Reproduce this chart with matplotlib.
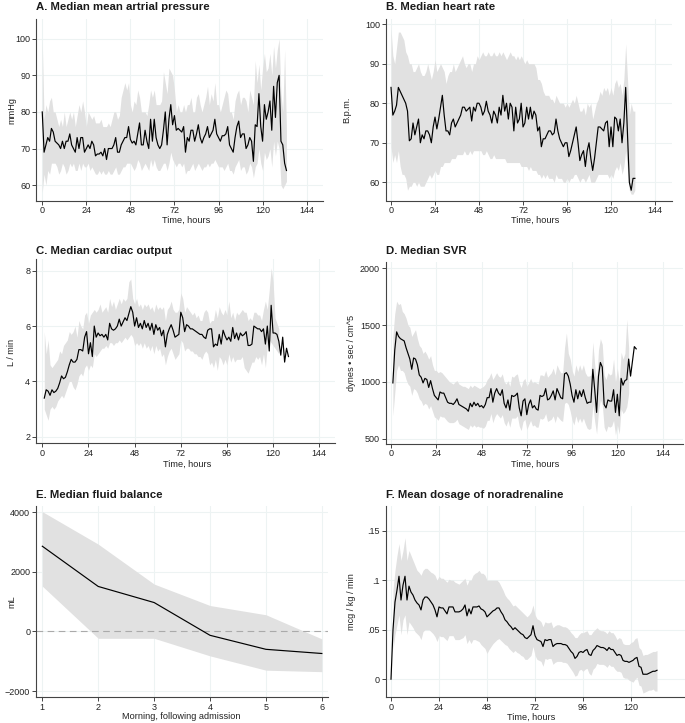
import numpy as np
import matplotlib
matplotlib.use("Agg")
import matplotlib.pyplot as plt

plt.rcParams["font.family"] = ["Liberation Sans", "DejaVu Sans"]

# ── A. mean arterial pressure (hourly, from 0 h) ─────────────────────
map_med = [80, 69, 71, 73, 72, 75.5, 74.5, 72, 71.5, 71, 70, 72, 70, 72, 72, 74,
           71, 70, 69, 73, 70, 73, 73, 69, 70, 71, 70, 72, 71, 68, 68.5, 68.5,
           69, 68, 70, 67, 70, 70, 70, 71, 73, 69, 69, 71, 72, 73, 73, 76,
           72.5, 71.5, 72, 71, 74, 77, 71, 71, 75, 72, 70, 78, 72, 78, 73, 71,
           70, 71, 75, 80, 71, 78, 82, 76.5, 79, 75, 75.5, 75, 74.5, 76, 69, 73,
           72, 75, 75, 72, 74, 76.5, 73, 71.5, 73, 74, 76, 73, 74, 75, 78, 74,
           73, 72, 73.5, 73.5, 74, 76, 71, 70, 69, 73, 76, 77.5, 73, 74, 74, 70,
           71, 73, 72, 66.5, 76.5, 76, 85, 76, 72, 82, 78, 80, 83, 75, 87, 78.5,
           88, 90, 72, 71, 66, 64]
map_hi = [100, 78, 82, 80, 83, 84, 80, 80, 78, 76, 78, 76, 80, 76, 78, 80,
          78, 80, 76, 79, 82, 80, 83, 80, 76, 80, 79, 78, 79, 77, 77, 77,
          78, 76, 76, 76, 77, 76, 78, 80, 80, 78, 79, 84, 86, 88, 86, 88,
          82, 80, 83, 82, 86, 84, 80, 80, 80, 79, 82, 86, 84, 86, 82, 82,
          82, 83, 91, 88, 85, 92, 91, 90, 86, 80, 82, 80, 80, 82, 80, 82,
          82, 84, 80, 80, 84, 85, 82, 80, 82, 84, 87, 82, 85, 83, 88, 82,
          82, 80, 82, 84, 86, 85, 80, 80, 78, 83, 85, 86, 82, 84, 84, 83,
          80, 86, 84, 82, 94, 88, 93, 86, 92, 96, 91, 92, 96, 90, 98, 92,
          97, 100, 85, 80, 97, 75]
map_lo = [58, 63, 60, 64, 63, 66, 66, 66, 65, 63, 64, 66, 65, 63, 64, 66,
          65, 66, 64, 64, 66, 64, 66, 65, 65, 66, 64, 65, 64, 63, 63, 64,
          63, 64, 63, 63, 64, 63, 63, 64, 65, 63, 63, 64, 65, 65, 66, 66,
          66, 65, 64, 65, 67, 66, 64, 65, 66, 65, 64, 67, 65, 67, 65, 64,
          64, 65, 66, 66, 64, 66, 69, 67, 66, 65, 66, 66, 65, 66, 63, 64,
          64, 65, 66, 64, 65, 66, 65, 64, 65, 65, 66, 65, 66, 66, 67, 66,
          65, 65, 65, 64, 65, 66, 64, 64, 63, 65, 66, 67, 64, 65, 65, 63,
          64, 66, 65, 62, 65, 66, 70, 66, 64, 69, 67, 68, 70, 65, 72, 68,
          72, 70, 60, 59, 60, 61]

# ── B. heart rate ────────────────────────────────────────────────────
hr_med = [84, 77, 78, 79.5, 84, 83, 82, 81, 80, 78, 70.5, 71, 75, 72, 74, 76,
          70, 72, 71, 73, 73, 72, 70, 74, 76.5, 73.5, 76, 79, 82, 77, 73, 73,
          72, 75, 76, 74, 75, 76, 77, 79, 79, 78, 78.5, 79, 75.5, 79, 78, 80,
          80, 79, 77, 78, 80.5, 78, 77, 75, 78, 77, 75, 79, 77, 82, 78, 80,
          76, 80, 79, 73, 79, 75, 76, 80, 74, 75, 79, 76, 79, 76, 78, 77,
          73, 74, 69, 71, 71, 72, 73, 73, 72, 72.5, 76, 73, 71, 70, 69, 70,
          70, 66.5, 68, 70, 72, 74, 70, 65.5, 67, 68, 64, 68, 70, 66, 63, 66,
          70, 74, 74, 73.5, 73, 75, 75.5, 69, 74, 69, 76.5, 76, 73, 76, 70, 75,
          84, 72, 60, 58, 61, 61]
hr_hi = [99, 92, 90, 94, 98, 98, 97, 96, 93, 92, 90, 90, 88, 88, 89, 90,
         88, 87, 87, 88, 90, 88, 86, 88, 91, 88, 89, 90, 89, 88, 85, 87,
         88, 88, 90, 88, 89, 90, 91, 92, 90, 89, 90, 90, 88, 90, 90, 92,
         91, 92, 93, 92, 92, 93, 92, 92, 93, 92, 92, 93, 92, 93, 92, 91,
         92, 93, 92, 92, 91, 92, 91, 92, 91, 90, 91, 90, 90, 90, 90, 89,
         86, 86, 85, 83, 82, 82, 82, 81, 81, 80, 82, 81, 80, 80, 80, 79,
         80, 79, 80, 81, 80, 82, 80, 78, 78, 79, 77, 80, 79, 80, 76, 78,
         80, 81, 83, 82, 84, 83, 84, 82, 84, 82, 85, 86, 84, 85, 82, 86,
         95, 86, 77, 80, 78, 78]
hr_lo = [69, 65, 67, 65, 68, 64, 62, 62, 61, 58, 59, 59, 60, 60, 59, 60,
         59, 59, 59, 60, 61, 62, 61, 62, 63, 62, 62, 64, 64, 65, 65, 65,
         65, 66, 66, 66, 67, 67, 67, 67, 68, 67, 67, 68, 67, 68, 68, 68,
         68, 68, 67, 67, 68, 67, 66, 66, 67, 66, 66, 66, 66, 66, 66, 65,
         65, 65, 65, 65, 65, 65, 65, 64, 64, 64, 64, 63, 64, 63, 63, 63,
         62, 62, 61, 62, 61, 62, 61, 61, 61, 60, 62, 61, 61, 61, 60, 60,
         61, 60, 61, 61, 62, 62, 61, 60, 61, 61, 60, 61, 62, 60, 60, 60,
         61, 62, 62, 62, 62, 62, 62, 61, 62, 61, 63, 64, 63, 65, 62, 64,
         68, 63, 58, 57, 57, 58]

# ── C. cardiac output (from 1 h) ─────────────────────────────────────
co_med = [3.4, 3.7, 3.65, 3.5, 3.7, 3.6, 3.65, 3.75, 3.95, 4.2, 4.1, 4.15, 4.35,
          4.6, 4.8, 4.7, 4.7, 4.8, 5.15, 5.15, 5.1, 5.6, 5.8, 5.0, 5.4, 4.9,
          6.0, 5.6, 5.75, 5.65, 5.7, 5.6, 5.7, 5.5, 6.1, 5.9, 5.85, 5.9, 6.0,
          6.25, 6.0, 6.15, 6.3, 6.2, 6.45, 6.7, 6.5, 6.0, 6.3, 5.95, 6.1, 5.9,
          6.2, 5.95, 6.1, 5.85, 6.1, 5.7, 6.05, 5.85, 5.95, 5.65, 5.85, 5.25,
          5.7, 5.9, 6.05, 5.85, 5.6, 5.65, 5.7, 6.5, 6.3, 5.8, 6.05, 6.0, 5.9,
          5.9, 5.85, 5.8, 5.75, 5.7, 5.7, 5.6, 5.55, 5.85, 5.9, 5.9, 5.25, 5.35,
          5.3, 5.7, 5.35, 5.85, 5.65, 5.5, 5.6, 5.45, 5.95, 5.55, 5.75, 5.5,
          5.75, 5.65, 5.7, 5.8, 5.3, 5.3, 5.35, 6.0, 5.95, 5.9, 5.9, 5.8, 5.9,
          5.35, 6.0, 5.1, 6.75, 5.75, 5.75, 5.7, 5.45, 4.95, 5.6, 4.7, 5.2, 4.9]
co_hi = [5.8, 5.0, 5.5, 4.6, 4.5, 4.6, 4.7, 4.8, 5.1, 5.0, 5.3, 5.4, 5.5, 5.8,
         5.7, 5.8, 6.0, 5.6, 6.2, 6.0, 5.9, 6.4, 6.5, 6.1, 6.4, 6.5, 6.6, 6.5,
         6.6, 6.8, 6.5, 6.6, 6.7, 6.5, 7.0, 6.7, 6.9, 6.6, 6.8, 7.0, 6.8, 7.0,
         6.9, 7.0, 7.6, 7.7, 7.0, 6.8, 7.0, 6.7, 6.8, 6.6, 6.8, 6.7, 6.8, 6.6,
         6.7, 6.5, 6.8, 6.6, 6.7, 6.6, 6.7, 6.2, 6.6, 6.7, 6.9, 6.6, 6.5, 6.5,
         6.6, 7.2, 7.0, 6.5, 6.7, 6.6, 6.5, 6.4, 6.5, 6.3, 6.4, 6.2, 6.2, 6.5,
         6.6, 6.5, 6.1, 6.2, 6.2, 6.6, 6.3, 6.7, 6.5, 6.4, 6.6, 6.4, 6.9, 6.3,
         6.5, 6.2, 6.5, 6.4, 6.5, 6.6, 6.5, 6.5, 6.2, 6.3, 6.2, 6.5, 6.5, 6.4,
         6.4, 6.2, 6.6, 6.9, 6.6, 7.3, 8.1, 7.6, 6.3, 6.1, 5.9]
co_lo = [3.0, 2.8, 2.6, 3.0, 3.1, 3.0, 3.1, 3.3, 3.4, 3.5, 3.4, 3.6, 3.8, 4.0,
         4.0, 3.8, 3.7, 3.9, 4.2, 4.3, 4.2, 4.5, 4.6, 4.4, 4.6, 4.5, 5.0, 4.9,
         5.0, 5.1, 5.2, 5.2, 5.3, 5.2, 5.4, 5.4, 5.3, 5.4, 5.4, 5.5, 5.4, 5.5,
         5.6, 5.5, 5.6, 5.7, 5.6, 5.3, 5.4, 5.3, 5.4, 5.2, 5.4, 5.2, 5.3, 5.1,
         5.3, 5.0, 5.3, 5.1, 5.2, 4.9, 5.0, 4.6, 4.9, 5.1, 5.2, 5.0, 4.8, 4.9,
         5.0, 5.5, 5.4, 5.1, 5.2, 5.2, 5.1, 5.1, 5.0, 5.0, 4.9, 4.9, 4.8, 5.0,
         5.1, 5.0, 4.6, 4.7, 4.5, 4.8, 4.4, 4.9, 4.8, 4.6, 4.8, 4.6, 5.0, 4.7,
         4.9, 4.7, 4.8, 4.8, 4.8, 4.9, 4.5, 4.4, 4.3, 4.5, 4.7, 4.7, 4.9, 4.8,
         4.9, 4.6, 5.0, 4.5, 5.3, 5.5, 5.4, 5.3, 5.2, 5.1, 5.0]

# ── D. SVR (from 1 h) ────────────────────────────────────────────────
svr_med = [990, 1280, 1440, 1400, 1380, 1370, 1360, 1300, 1250, 1200, 1110, 1210,
           1200, 1150, 1060, 1040, 990, 1030, 1020, 950, 1010, 940, 880, 860,
           840, 910, 900, 900, 860, 820, 810, 810, 800, 820, 850, 800, 790, 780,
           770, 760, 740, 810, 780, 820, 790, 810, 780, 790, 770, 800, 860, 860,
           940, 820, 900, 940, 900, 880, 930, 810, 770, 840, 750, 880, 870, 880,
           900, 770, 700, 830, 850, 710, 800, 840, 770, 790, 760, 750, 880, 870,
           880, 940, 840, 850, 880, 920, 840, 940, 900, 860, 850, 1070, 1080,
           1050, 980, 880, 820, 930, 850, 920, 870, 930, 860, 810, 820, 820,
           1110, 930, 730, 1050, 1170, 1130, 800, 770, 840, 830, 830, 930, 730,
           890, 700, 1030, 970, 1010, 1020, 1200, 1050, 1180, 1310, 1290]
svr_hi = [1400, 1600, 1710, 1680, 1690, 1620, 1600, 1560, 1500, 1480, 1400, 1430,
          1460, 1380, 1320, 1300, 1250, 1270, 1240, 1200, 1230, 1150, 1100, 1100,
          1080, 1090, 1080, 1060, 1040, 1020, 1000, 990, 980, 1000, 1010, 980,
          970, 960, 960, 950, 940, 970, 950, 970, 960, 950, 940, 950, 960, 980,
          1020, 1040, 1080, 1020, 1050, 1080, 1050, 1040, 1070, 1000, 980, 1010,
          960, 1050, 1040, 1060, 1070, 990, 950, 1010, 1030, 960, 990, 1030, 990,
          1000, 990, 980, 1060, 1060, 1050, 1100, 1040, 1060, 1080, 1120, 1060,
          1150, 1110, 1080, 1080, 1300, 1430, 1250, 1200, 1100, 1050, 1150, 1090,
          1150, 1100, 1150, 1080, 1050, 1050, 1060, 1350, 1150, 1000, 1280, 1380,
          1330, 1060, 1020, 1080, 1060, 1070, 1200, 1000, 1120, 1000, 1260, 1200,
          1250, 1550, 1300]
svr_lo = [700, 900, 1100, 1150, 1100, 1100, 1080, 1020, 980, 960, 880, 940, 930,
          900, 850, 830, 790, 810, 800, 760, 790, 740, 690, 680, 660, 700, 690,
          690, 670, 650, 640, 640, 640, 650, 670, 630, 620, 610, 600, 590, 580,
          620, 600, 620, 600, 610, 600, 600, 590, 610, 660, 660, 720, 640, 690,
          720, 700, 680, 710, 640, 610, 660, 600, 680, 680, 680, 700, 610, 570,
          650, 670, 580, 620, 660, 610, 620, 600, 600, 680, 670, 680, 720, 650,
          660, 670, 700, 640, 700, 680, 660, 650, 810, 820, 800, 740, 660, 620,
          700, 640, 680, 640, 680, 630, 590, 580, 590, 800, 650, 540, 740, 840,
          800, 600, 560, 610, 600, 610, 660, 530, 620, 540, 760, 720, 740, 780,
          900]

# ── E. fluid balance by morning ──────────────────────────────────────
morning = [1, 2, 3, 4, 5, 6]
fluid_med = [2860, 1510, 970, -130, -600, -740]
fluid_hi = [4020, 2930, 1590, 870, 560, -250]
fluid_lo = [1520, -230, -230, -820, -1300, -1350]

# ── F. noradrenaline dose (from 0 h) ─────────────────────────────────
na_mean = [0, 0.05, 0.078, 0.09, 0.104, 0.08, 0.095, 0.104, 0.08, 0.094, 0.088,
           0.085, 0.08, 0.077, 0.075, 0.07, 0.08, 0.083, 0.083, 0.081, 0.078,
           0.075, 0.07, 0.063, 0.073, 0.072, 0.072, 0.069, 0.066, 0.073, 0.073,
           0.073, 0.068, 0.068, 0.068, 0.069, 0.071, 0.075, 0.064, 0.071, 0.066,
           0.073, 0.073, 0.073, 0.074, 0.071, 0.07, 0.068, 0.063, 0.065, 0.067,
           0.069, 0.07, 0.072, 0.072, 0.068, 0.065, 0.06, 0.058, 0.055, 0.053,
           0.05, 0.052, 0.05, 0.048, 0.046, 0.045, 0.042, 0.041, 0.043, 0.045,
           0.054, 0.044, 0.04, 0.039, 0.038, 0.033, 0.04, 0.039, 0.04, 0.04,
           0.033, 0.035, 0.036, 0.036, 0.036, 0.035, 0.035, 0.034, 0.031, 0.028,
           0.026, 0.021, 0.023, 0.027, 0.028, 0.027, 0.029, 0.03, 0.025, 0.024,
           0.029, 0.031, 0.034, 0.033, 0.032, 0.032, 0.031, 0.029, 0.032, 0.03,
           0.03, 0.027, 0.024, 0.025, 0.024, 0.019, 0.018, 0.018, 0.017, 0.018,
           0.019, 0.021, 0.022, 0.013, 0.012, 0.005, 0.005, 0.005, 0.006, 0.007,
           0.008, 0.008, 0.009]
na_hi = [0.09, 0.11, 0.125, 0.137, 0.12, 0.13, 0.143, 0.12, 0.13, 0.125, 0.12,
         0.115, 0.11, 0.108, 0.105, 0.11, 0.112, 0.112, 0.11, 0.108, 0.107, 0.105,
         0.1, 0.104, 0.102, 0.102, 0.1, 0.098, 0.101, 0.1, 0.1, 0.098, 0.097,
         0.096, 0.098, 0.1, 0.102, 0.095, 0.1, 0.1, 0.105, 0.107, 0.108, 0.11,
         0.107, 0.107, 0.105, 0.1, 0.1, 0.1, 0.1, 0.1, 0.1, 0.098, 0.094, 0.09,
         0.085, 0.082, 0.08, 0.077, 0.074, 0.075, 0.073, 0.071, 0.069, 0.067,
         0.065, 0.063, 0.065, 0.068, 0.075, 0.065, 0.061, 0.06, 0.058, 0.053,
         0.058, 0.057, 0.057, 0.058, 0.052, 0.054, 0.055, 0.055, 0.054, 0.053,
         0.053, 0.052, 0.05, 0.047, 0.045, 0.042, 0.042, 0.045, 0.047, 0.047,
         0.048, 0.049, 0.045, 0.045, 0.048, 0.05, 0.052, 0.05, 0.049, 0.049,
         0.048, 0.046, 0.049, 0.047, 0.047, 0.044, 0.04, 0.042, 0.041, 0.036,
         0.035, 0.035, 0.035, 0.037, 0.038, 0.041, 0.042, 0.032, 0.03, 0.024,
         0.025, 0.025, 0.026, 0.027, 0.028, 0.028, 0.029]
na_lo = [0.03, 0.045, 0.055, 0.065, 0.045, 0.06, 0.065, 0.045, 0.058, 0.055,
         0.052, 0.048, 0.046, 0.044, 0.04, 0.048, 0.05, 0.05, 0.05, 0.048, 0.046,
         0.043, 0.038, 0.044, 0.043, 0.043, 0.041, 0.039, 0.044, 0.044, 0.044,
         0.04, 0.04, 0.04, 0.041, 0.042, 0.045, 0.036, 0.04, 0.036, 0.04, 0.04,
         0.039, 0.038, 0.035, 0.033, 0.031, 0.026, 0.03, 0.033, 0.036, 0.038,
         0.04, 0.041, 0.039, 0.037, 0.035, 0.034, 0.031, 0.029, 0.027, 0.029,
         0.027, 0.026, 0.024, 0.023, 0.02, 0.02, 0.022, 0.024, 0.033, 0.024,
         0.02, 0.019, 0.018, 0.013, 0.021, 0.02, 0.021, 0.021, 0.015, 0.017,
         0.018, 0.018, 0.018, 0.017, 0.017, 0.016, 0.013, 0.01, 0.007, 0.003,
         0.004, 0.009, 0.01, 0.008, 0.01, 0.011, 0.006, 0.004, 0.01, 0.012,
         0.016, 0.015, 0.015, 0.015, 0.014, 0.012, 0.015, 0.013, 0.013, 0.01,
         0.008, 0.008, 0.007, 0.002, 0.001, 0.001, -0.001, -0.002, -0.003, 0.0,
         0.002, -0.006, -0.007, -0.014, -0.013, -0.012, -0.011, -0.011, -0.01,
         -0.012, -0.012]

hour_ticks = [0, 24, 48, 72, 96, 120, 144]

W, H = 685, 723
BAND = "#e1e1e1"
GRID = "#edf3f3"
AXC = "#444444"


def box(l, t, r, b):
    return [l / W, 1 - b / H, (r - l) / W, (b - t) / H]


def style(ax, xlim, ylim, xticks, yticks, yfmt=None):
    ax.set_xlim(*xlim)
    ax.set_ylim(*ylim)
    ax.set_xticks(xticks)
    ax.set_yticks(yticks)
    if yfmt:
        ax.set_yticklabels(yfmt)
    for s in ("top", "right"):
        ax.spines[s].set_visible(False)
    for s in ("left", "bottom"):
        ax.spines[s].set_color(AXC)
        ax.spines[s].set_linewidth(0.8)
    ax.grid(True, color=GRID, linewidth=0.8)
    ax.set_axisbelow(True)
    ax.tick_params(direction="out", length=3, width=0.7, color=AXC,
                   labelsize=6.5, labelcolor="#222222")
    ax.tick_params(axis="x", pad=1.0)
    ax.tick_params(axis="y", pad=1.2)


def text_px(x, y, s, **kw):
    fig.text(x / W, 1 - y / H, s, **kw)


fig = plt.figure(figsize=(6.85, 7.23), dpi=100)

panels = {}
panels["A"] = fig.add_axes(box(36, 19, 323, 200.5))
panels["B"] = fig.add_axes(box(385.7, 19, 671.7, 200.5))
panels["C"] = fig.add_axes(box(36, 259.3, 335, 443))
panels["D"] = fig.add_axes(box(385.7, 262.3, 683, 443.5))
panels["E"] = fig.add_axes(box(36, 505.7, 328, 697))
panels["F"] = fig.add_axes(box(385.7, 506, 685, 697))

lw = 0.85

# A
ax = panels["A"]
ax.fill_between(np.arange(len(map_hi)), map_lo, map_hi, color=BAND, lw=0)
ax.plot(np.arange(len(map_med)), map_med, color="black", lw=lw)
style(ax, (-3.4, 152.9), (55.8, 105.4), hour_ticks, [60, 70, 80, 90, 100])

# B
ax = panels["B"]
ax.fill_between(np.arange(len(hr_hi)), hr_lo, hr_hi, color=BAND, lw=0)
ax.plot(np.arange(len(hr_med)), hr_med, color="black", lw=lw)
style(ax, (-2.9, 153.1), (55.4, 101.3), hour_ticks, [60, 70, 80, 90, 100])

# C
ax = panels["C"]
ax.fill_between(np.arange(1, len(co_hi) + 1), co_lo, co_hi, color=BAND, lw=0)
ax.plot(np.arange(1, len(co_med) + 1), co_med, color="black", lw=lw)
style(ax, (-3.3, 152.2), (1.78, 8.41), hour_ticks, [2, 4, 6, 8])

# D
ax = panels["D"]
ax.fill_between(np.arange(1, len(svr_hi) + 1), svr_lo, svr_hi, color=BAND, lw=0)
ax.plot(np.arange(1, len(svr_med) + 1), svr_med, color="black", lw=lw)
style(ax, (-2.8, 154.8), (456, 2053), hour_ticks, [500, 1000, 1500, 2000])

# E
ax = panels["E"]
ax.fill_between(morning, fluid_lo, fluid_hi, color=BAND, lw=0)
ax.axhline(0, color="#aaaaaa", lw=0.8, ls=(0, (6, 4)))
ax.plot(morning, fluid_med, color="black", lw=lw)
style(ax, (0.887, 6.11), (-2200, 4220), morning, [-2000, 0, 2000, 4000])

# F
ax = panels["F"]
ax.fill_between(np.arange(1, len(na_hi) + 1), na_lo, na_hi, color=BAND, lw=0)
ax.plot(np.arange(len(na_mean)), na_mean, color="black", lw=lw)
style(ax, (-2.65, 147), (-0.018, 0.175), hour_ticks[:-1], [0, 0.05, 0.1, 0.15],
      ["0", ".05", ".1", ".15"])

# titles
tkw = dict(fontsize=8.2, fontweight="bold", va="baseline", ha="left", color="#1a1a1a")
text_px(36, 9.5, "A. Median mean artrial pressure", **tkw)
text_px(385.7, 9.5, "B. Median heart rate", **tkw)
text_px(36, 253.5, "C. Median cardiac output", **tkw)
text_px(385.7, 253.5, "D. Median SVR", **tkw)
text_px(36, 497.5, "E. Median fluid balance", **tkw)
text_px(385.7, 497.5, "F. Mean dosage of noradrenaline", **tkw)

# axis labels
lkw = dict(fontsize=6.6, ha="center", va="center", color="#222222")
text_px(186, 220.5, "Time, hours", **lkw)
text_px(535, 220.5, "Time, hours", **lkw)
text_px(186.7, 464, "Time, hours", **lkw)
text_px(535, 464, "Time, hours", **lkw)
text_px(181.7, 716.5, "Morning, following admission", **lkw)
text_px(531, 717, "Time, hours", **lkw)

text_px(11.7, 110, "mmHg", rotation=90, **lkw)
text_px(346.7, 110, "B.p.m.", rotation=90, **lkw)
text_px(11.7, 352, "L / min", rotation=90, **lkw)
text_px(351.7, 353, "dynes \u2022 sec / cm^5", rotation=90, **lkw)
text_px(11.7, 602, "mL", rotation=90, **lkw)
text_px(351.7, 602, "mcg / kg / min", rotation=90, **lkw)

fig.savefig("out.png", dpi=100)
